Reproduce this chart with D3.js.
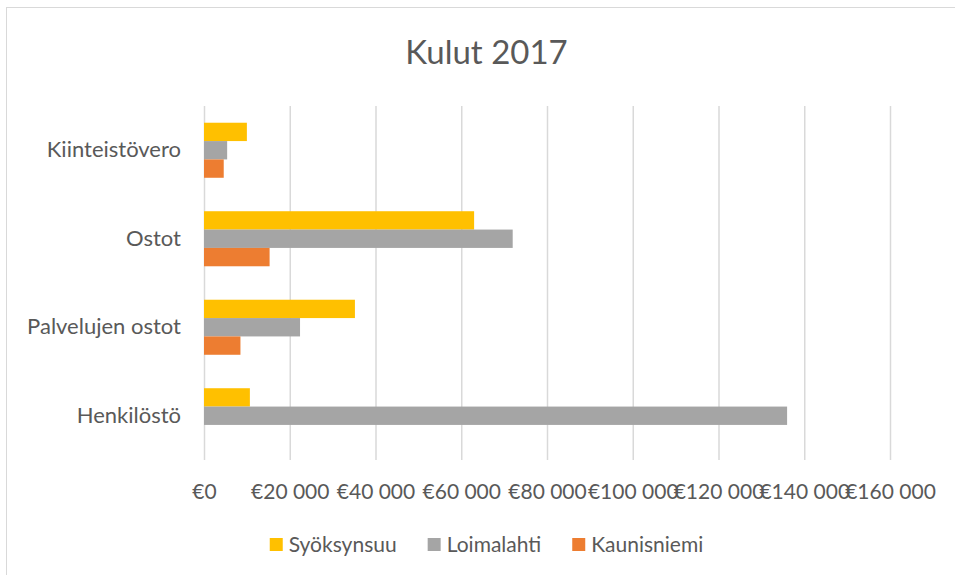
<!DOCTYPE html>
<html>
<head>
<meta charset="utf-8">
<script src="https://cdn.jsdelivr.net/npm/d3@7"></script>
<style>
  body { margin: 0; background: #fff; }
  text { font-family: Lato, "Open Sans", sans-serif; fill: #595959; }
</style>
</head>
<body>
<div id="chart"></div>
<script>
// Data
const title = "Kulut 2017";
const categories = ["Kiinteistövero", "Ostot", "Palvelujen ostot", "Henkilöstö"];
const seriesNames = ["Syöksynsuu", "Loimalahti", "Kaunisniemi"];
const seriesColors = ["#FFC000", "#A5A5A5", "#ED7D31"];
const syoksynsuu = [10000, 63000, 35200, 10700];
const loimalahti = [5400, 72000, 22400, 136000];
const kaunisniemi = [4600, 15300, 8500, 0];
const xTicks = [0, 20000, 40000, 60000, 80000, 100000, 120000, 140000, 160000];

const width = 955;
const height = 575;
const margin = { left: 204, right: 65, top: 106, bottom: 115 };

const svg = d3.select("#chart")
  .append("svg")
  .attr("width", width)
  .attr("height", height);

// chart border (runs off the right and bottom edge)
svg.append("rect")
  .attr("x", 6.5)
  .attr("y", 7.5)
  .attr("width", 980)
  .attr("height", 600)
  .attr("fill", "none")
  .attr("stroke", "#D9D9D9");

svg.append("text")
  .attr("x", 486.5)
  .attr("y", 64)
  .attr("text-anchor", "middle")
  .style("font-size", "33px")
  .text(title);

const xScale = d3.scaleLinear()
  .domain([0, 160000])
  .range([margin.left, width - margin.right]);

const yScale = d3.scaleBand()
  .domain(categories)
  .range([margin.top, height - margin.bottom])
  .paddingInner(0.378)
  .paddingOuter(0.189);

const ySub = d3.scaleBand()
  .domain(seriesNames)
  .range([0, yScale.bandwidth()]);

// gridlines
const grid = svg.append("g")
  .attr("transform", `translate(0, ${height - margin.bottom})`)
  .call(d3.axisBottom(xScale).tickValues(xTicks).tickSize(-(height - margin.bottom - margin.top)).tickFormat(""));
grid.select(".domain").remove();
grid.selectAll("line").attr("stroke", "#D9D9D9").attr("stroke-width", 1.5);

// x tick labels
const fmt = (v) => "€" + d3.format(",")(v).replace(/,/g, " ");
const xAxis = svg.append("g")
  .attr("transform", `translate(0, ${height - margin.bottom})`)
  .call(d3.axisBottom(xScale).tickValues(xTicks).tickSize(0).tickPadding(24).tickFormat(fmt));
xAxis.select(".domain").remove();
xAxis.selectAll("text")
  .style("font-size", "21px")
  .attr("fill", "#595959");

// y category labels
const yAxis = svg.append("g")
  .attr("transform", `translate(${margin.left}, 0)`)
  .call(d3.axisLeft(yScale).tickSize(0).tickPadding(23));
yAxis.select(".domain").remove();
yAxis.selectAll("text")
  .style("font-size", "22px")
  .attr("fill", "#595959");

// bars
const seriesValues = [syoksynsuu, loimalahti, kaunisniemi];
const rows = [];
categories.forEach((c, i) => {
  seriesNames.forEach((s, j) => {
    rows.push({ category: c, series: s, value: seriesValues[j][i], color: seriesColors[j] });
  });
});

svg.append("g")
  .selectAll("rect")
  .data(rows)
  .join("rect")
  .attr("x", xScale(0))
  .attr("y", (d) => yScale(d.category) + ySub(d.series))
  .attr("width", (d) => xScale(d.value) - xScale(0))
  .attr("height", ySub.bandwidth())
  .attr("fill", (d) => d.color);

// legend
const legend = svg.append("g");
const items = legend.selectAll("g")
  .data(seriesNames)
  .join("g");
items.append("rect")
  .attr("width", 13)
  .attr("height", 13)
  .attr("y", -7)
  .attr("fill", (d, i) => seriesColors[i]);
items.append("text")
  .attr("x", 19)
  .attr("dy", "0.35em")
  .style("font-size", "21px")
  .text((d) => d);
let offset = 0;
items.each(function () {
  const g = d3.select(this);
  g.attr("transform", `translate(${offset}, 0)`);
  offset += this.getBBox().width + 31;
});
const legendWidth = offset - 31;
legend.attr("transform", `translate(${486.5 - legendWidth / 2}, 545)`);
</script>
</body>
</html>
